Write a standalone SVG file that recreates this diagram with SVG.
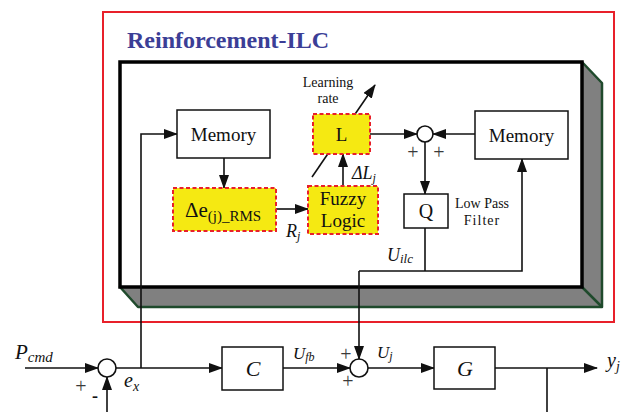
<svg xmlns="http://www.w3.org/2000/svg" width="636" height="412" viewBox="0 0 636 412">
<style>
text{font-family:"Liberation Serif","Times New Roman",serif;fill:#111}
.box{fill:#fff;stroke:#111;stroke-width:1.5}
.ybox{fill:#f5e912;stroke:#e8202a;stroke-width:2;stroke-dasharray:4 2.5}
.ln{fill:none;stroke:#111;stroke-width:1.6}
.arr{fill:none;stroke:#111;stroke-width:1.6;marker-end:url(#ah)}
.sum{fill:#fff;stroke:#111;stroke-width:1.6}
.lbl{font-size:19px}
.it{font-style:italic}
.sm{font-size:14px}
.pm{font-size:20px;fill:#3a3a3a}
</style>
<defs>
<marker id="ah" viewBox="0 0 14 10" refX="13" refY="5" markerWidth="14" markerHeight="10" markerUnits="userSpaceOnUse" orient="auto">
<path d="M0,0 L14,5 L0,10 z" fill="#111"/>
</marker>
</defs>

<g id="frame">
<rect x="103" y="12" width="511" height="310" fill="none" stroke="#e8202a" stroke-width="2"/>
<text x="127" y="48" font-size="24" font-weight="bold" style="fill:#3b3e96">Reinforcement-ILC</text>
<polygon points="582,62 602,83 602,307 138,307 120,287" fill="#808080" stroke="#1f4a2c" stroke-width="2.5" stroke-linejoin="round"/>
<line x1="582" y1="287" x2="602" y2="307" stroke="#1f4a2c" stroke-width="2.5"/>
<rect x="120" y="62" width="462" height="225" fill="#fff" stroke="#000" stroke-width="3.5"/>
</g>

<g id="connectors">
<line class="arr" x1="25" y1="368" x2="98" y2="368"/>
<line class="arr" x1="107" y1="412" x2="107" y2="377"/>
<line class="arr" x1="116" y1="368" x2="222" y2="368"/>
<polyline class="arr" points="141,368 141,134 177,134"/>
<line class="arr" x1="224" y1="158" x2="224" y2="188"/>
<line class="arr" x1="276" y1="209" x2="308" y2="209"/>
<line class="arr" x1="343" y1="186" x2="343" y2="154"/>
<line class="arr" x1="312" y1="177" x2="375" y2="85"/>
<line class="arr" x1="370" y1="134" x2="417" y2="134"/>
<line class="arr" x1="475" y1="134" x2="433" y2="134"/>
<line class="arr" x1="425" y1="142" x2="425" y2="194"/>
<line class="ln" x1="425" y1="228" x2="425" y2="271"/>
<polyline class="arr" points="359,271 522,271 522,159"/>
<line class="arr" x1="359" y1="271" x2="359" y2="359"/>
<line class="arr" x1="283" y1="368" x2="350" y2="368"/>
<line class="arr" x1="368" y1="368" x2="434" y2="368"/>
<line class="arr" x1="495" y1="368" x2="597" y2="368"/>
<line class="ln" x1="547" y1="368" x2="547" y2="412"/>
</g>

<g id="memory1">
<rect class="box" x="177" y="110" width="93" height="48"/>
<text class="lbl" x="223.5" y="140.5" text-anchor="middle">Memory</text>
</g>

<g id="delta-e-rms">
<rect class="ybox" x="173" y="188" width="103" height="43"/>
<text x="185" y="217" font-size="21">Δe<tspan font-size="15" dy="4">(j)_RMS</tspan></text>
</g>

<g id="fuzzy-logic">
<rect class="ybox" x="308" y="186" width="70" height="48"/>
<text class="lbl" x="343" y="205" text-anchor="middle">Fuzzy</text>
<text class="lbl" x="343" y="227" text-anchor="middle">Logic</text>
</g>

<g id="learning-L">
<rect class="ybox" x="313" y="114" width="57" height="40"/>
<text class="lbl" x="341.5" y="141" text-anchor="middle">L</text>
<text class="sm" x="328" y="87" text-anchor="middle">Learning</text>
<text class="sm" x="328" y="103" text-anchor="middle">rate</text>
</g>

<g id="sum-top">
<circle class="sum" cx="425" cy="134" r="8"/>
<text class="pm" x="413" y="159" text-anchor="middle">+</text>
<text class="pm" x="439" y="159" text-anchor="middle">+</text>
</g>

<g id="memory2">
<rect class="box" x="475" y="111" width="93" height="48"/>
<text class="lbl" x="521.5" y="141.5" text-anchor="middle">Memory</text>
</g>

<g id="Q-filter">
<rect class="box" x="404" y="194" width="44" height="34"/>
<text x="426" y="218" font-size="20" text-anchor="middle">Q</text>
<text class="sm" x="482" y="208" text-anchor="middle">Low Pass</text>
<text class="sm" x="482" y="225" text-anchor="middle" letter-spacing="1">Filter</text>
</g>

<g id="sum-input">
<circle class="sum" cx="107" cy="368" r="9"/>
<text class="pm" x="81" y="393" text-anchor="middle">+</text>
<text x="95" y="402" text-anchor="middle" font-size="18" font-weight="bold">-</text>
</g>

<g id="C">
<rect class="box" x="222" y="347" width="61" height="43"/>
<text class="it" x="253" y="376" font-size="22" text-anchor="middle">C</text>
</g>

<g id="sum-output">
<circle class="sum" cx="359" cy="368" r="9"/>
<text class="pm" x="346" y="361" text-anchor="middle">+</text>
<text class="pm" x="348" y="388" text-anchor="middle">+</text>
</g>

<g id="G">
<rect class="box" x="434" y="347" width="61" height="42"/>
<text class="it" x="465" y="376" font-size="22" text-anchor="middle">G</text>
</g>

<g id="labels">
<text class="it" x="352" y="179" font-size="18">ΔL<tspan font-size="12" dy="3">j</tspan></text>
<text class="it" x="286" y="237" font-size="18">R<tspan font-size="12" dy="3">j</tspan></text>
<text class="it" x="387" y="261" font-size="18">U<tspan font-size="13" dy="2">ilc</tspan></text>
<text class="it" x="15" y="359" font-size="21">P<tspan font-size="15" dy="3">cmd</tspan></text>
<text class="it" x="124" y="387" font-size="20">e<tspan font-size="14" dy="4">x</tspan></text>
<text class="it" x="293" y="359" font-size="17">U<tspan font-size="12" dy="2">fb</tspan></text>
<text class="it" x="377" y="358" font-size="17">U<tspan font-size="12" dy="2">j</tspan></text>
<text class="it" x="607" y="367" font-size="20">y<tspan font-size="14" dy="4">j</tspan></text>
</g>
</svg>
